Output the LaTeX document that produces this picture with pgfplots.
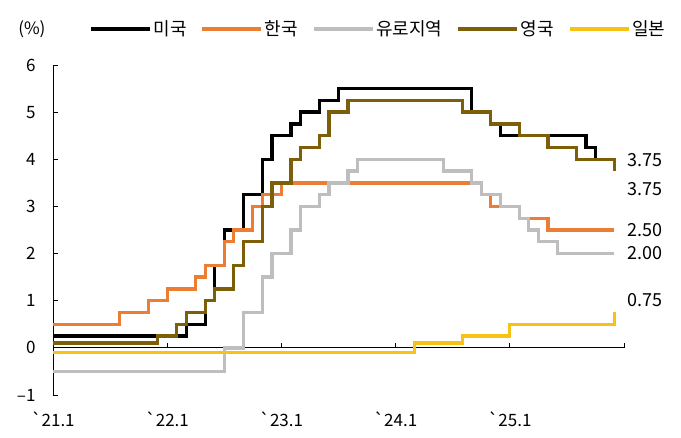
\documentclass[border=0pt]{standalone}
\usepackage{fontspec}
\setmainfont{Noto Sans CJK KR}
\newfontfamily\raw{Noto Sans CJK KR}
\usepackage{pgfplots}
\usepackage{pgfplotstable}
\pgfplotsset{compat=1.18}

\definecolor{cOrange}{HTML}{EB7D34}
\definecolor{cGray}{HTML}{BEBEBE}
\definecolor{cOlive}{HTML}{7C5F08}
\definecolor{cGold}{HTML}{F8C215}

\newcommand{\ff}{\fontsize{17pt}{20pt}\selectfont}
\newcommand{\fl}{\fontsize{18pt}{21pt}\selectfont}
\newcommand{\fr}{\fontsize{18pt}{21pt}\selectfont}
\newcommand{\bq}{{\raw`}}

% policy rates, x = months since 2021.1
\pgfplotstableread{
x y
0 0.25
14 0.50
16 1.00
17 1.75
18 2.50
20 3.25
22 4.00
23 4.50
25 4.75
26 5.00
28 5.25
30 5.50
44 5.00
46 4.75
47 4.50
56 4.25
57 4.00
59 3.75
}\us
\pgfplotstableread{
x y
0 0.50
7 0.75
10 1.00
12 1.25
15 1.50
16 1.75
18 2.25
19 2.50
21 3.00
22 3.25
24 3.50
45 3.25
46 3.00
49 2.75
52 2.50
59 2.50
}\kr
\pgfplotstableread{
x y
0 -0.50
18 0.00
20 0.75
22 1.50
23 2.00
25 2.50
26 3.00
28 3.25
29 3.50
31 3.75
32 4.00
41 3.75
44 3.50
45 3.25
47 3.00
49 2.75
50 2.50
51 2.25
53 2.00
59 2.00
}\eu
\pgfplotstableread{
x y
0 0.10
11 0.25
13 0.50
14 0.75
16 1.00
17 1.25
19 1.75
20 2.25
22 3.00
23 3.50
25 4.00
26 4.25
28 4.50
29 5.00
31 5.25
43 5.00
46 4.75
49 4.50
52 4.25
55 4.00
59 3.75
}\uk
\pgfplotstableread{
x y
0 -0.10
38 0.10
43 0.25
48 0.50
59 0.75
}\jp

\begin{document}
\begin{tikzpicture}
\path[use as bounding box] (-53pt,-43pt) rectangle (628pt,395pt);
\begin{axis}[
  at={(0,0)}, anchor=south west,
  width=571pt, height=330pt, scale only axis,
  xmin=0, xmax=60, ymin=-1, ymax=6,
  axis x line=middle, axis y line=left,
  axis line style={-, line width=0.9pt},
  hide obscured x ticks=false,
  xtick={0,12,24,36,48,60},
  xticklabels={\bq21.1,\bq22.1,\bq23.1,\bq24.1,\bq25.1,{}},
  ytick={-1,0,1,2,3,4,5,6},
  yticklabels={–1,0,1,2,3,4,5,6},
  tick align=inside,
  major tick length=5pt,
  tick style={black, line width=0.9pt},
  ticklabel style={font=\ff},
  xticklabel shift=60pt,
  yticklabel shift=14pt,
  clip=false,
  every axis plot/.append style={const plot, line width=3.3pt, line join=miter},
  legend columns=5,
  legend image code/.code={\draw[#1] (0pt,0pt) -- (59pt,0pt);},
  legend style={draw=none, fill=none, at={(0.063,1.109)}, anchor=west,
    inner sep=0pt, font=\fl,
    /tikz/every even column/.append style={column sep=12pt}},
]
\addplot[black] table {\us};
\addlegendentry{미국}
\addplot[cOrange] table {\kr};
\addlegendentry{한국}
\addplot[cGray] table {\eu};
\addlegendentry{유로지역}
\addplot[cOlive] table {\uk};
\addlegendentry{영국}
\addplot[cGold] table {\jp};
\addlegendentry{일본}

\node[font=\ff] at (axis description cs:-0.037,1.109) {(\%)};
\node[font=\fr, anchor=west, inner sep=0pt] at (axis cs:60.3,3.99) {3.75};
\node[font=\fr, anchor=west, inner sep=0pt] at (axis cs:60.3,3.37) {3.75};
\node[font=\fr, anchor=west, inner sep=0pt] at (axis cs:60.3,2.50) {2.50};
\node[font=\fr, anchor=west, inner sep=0pt] at (axis cs:60.3,2.02) {2.00};
\node[font=\fr, anchor=west, inner sep=0pt] at (axis cs:60.3,1.02) {0.75};
\end{axis}
\end{tikzpicture}
\end{document}
